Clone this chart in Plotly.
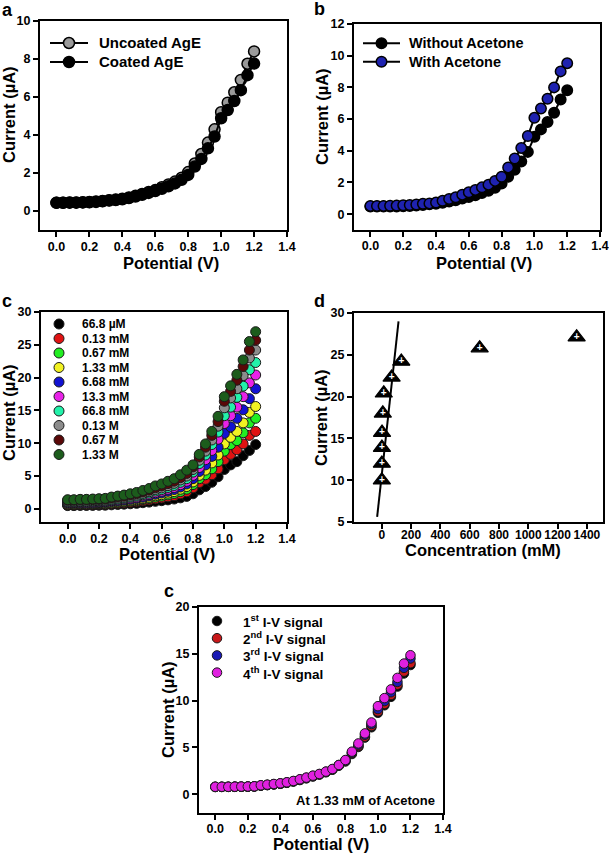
import plotly.graph_objects as go

W, H = 609, 854
FONT = "Liberation Sans, Arial, Helvetica, sans-serif"

# ---------------- data ----------------
potential = [0.00, 0.04, 0.08, 0.12, 0.16, 0.20, 0.24, 0.28, 0.32, 0.36,
             0.40, 0.44, 0.48, 0.52, 0.56, 0.60, 0.64, 0.68, 0.72, 0.76,
             0.80, 0.84, 0.88, 0.92, 0.96, 1.00, 1.04, 1.08, 1.12, 1.16, 1.20]

# panel a
a_names = ["Uncoated AgE", "Coated AgE"]
a_colors = ["#9a9a9a", "#000000"]
a_uncoated = [0.44, 0.44, 0.45, 0.45, 0.46, 0.48, 0.50, 0.53, 0.57, 0.60,
              0.65, 0.71, 0.80, 0.90, 1.00, 1.10, 1.25, 1.40, 1.55, 1.75,
              2.05, 2.50, 3.00, 3.60, 4.30, 5.20, 5.70, 6.25, 6.90, 7.75, 8.40]
a_coated = [0.43, 0.43, 0.44, 0.44, 0.45, 0.46, 0.48, 0.51, 0.55, 0.58,
            0.62, 0.68, 0.76, 0.85, 0.95, 1.05, 1.17, 1.30, 1.45, 1.64,
            1.90, 2.34, 2.74, 3.30, 3.92, 4.88, 5.31, 5.79, 6.36, 7.15, 7.76]

# panel b
b_names = ["Without Acetone", "With Acetone"]
b_colors = ["#000000", "#1e22b0"]
b_without = [0.48, 0.48, 0.48, 0.48, 0.49, 0.50, 0.52, 0.55, 0.58, 0.62,
             0.66, 0.72, 0.80, 0.88, 0.98, 1.08, 1.20, 1.33, 1.48, 1.67,
             1.94, 2.36, 2.80, 3.32, 3.93, 4.89, 5.35, 5.81, 6.40, 7.23, 7.82]
b_with = [0.52, 0.52, 0.52, 0.53, 0.54, 0.56, 0.58, 0.61, 0.65, 0.68,
          0.73, 0.84, 0.96, 1.07, 1.23, 1.38, 1.53, 1.69, 1.86, 2.10,
          2.36, 2.95, 3.51, 4.18, 4.93, 6.08, 6.67, 7.28, 8.00, 9.01, 9.53]

# panel c
c_labels = ["66.8 µM", "0.13 mM", "0.67 mM", "1.33 mM", "6.68 mM",
            "13.3 mM", "66.8 mM", "0.13 M", "0.67 M", "1.33 M"]
c_colors = ["#000000", "#e01212", "#22ee22", "#f2f222", "#1212d2",
            "#e822e8", "#22f2aa", "#8c8c8c", "#5a0808", "#1c5c1c"]
c_66_8uM = [0.50, 0.50, 0.52, 0.52, 0.53, 0.55, 0.56, 0.62, 0.67, 0.72,
            0.78, 0.84, 0.94, 1.03, 1.15, 1.25, 1.37, 1.50, 1.68, 1.90,
            2.3, 2.9, 3.4, 4.05, 4.9, 6.0, 6.7, 7.2, 8.1, 8.9, 9.8]
c_0_13mM = [0.60, 0.60, 0.62, 0.62, 0.64, 0.67, 0.69, 0.78, 0.84, 0.91,
            1.00, 1.09, 1.22, 1.36, 1.53, 1.67, 1.84, 2.02, 2.29, 2.60,
            3.2, 4.0, 4.5, 5.2, 6.1, 7.5, 8.3, 9.0, 9.9, 11.2, 11.8]
c_0_67mM = [0.70, 0.70, 0.73, 0.73, 0.75, 0.78, 0.80, 0.90, 0.98, 1.06,
            1.16, 1.26, 1.42, 1.57, 1.77, 1.93, 2.13, 2.34, 2.64, 3.00,
            3.7, 4.6, 5.2, 6.1, 7.2, 8.8, 9.8, 10.4, 11.6, 13.1, 13.8]
c_1_33mM = [0.75, 0.75, 0.78, 0.78, 0.81, 0.84, 0.87, 0.99, 1.07, 1.16,
            1.28, 1.40, 1.57, 1.75, 1.99, 2.16, 2.40, 2.63, 2.99, 3.40,
            4.1, 5.1, 5.9, 7.0, 8.2, 9.9, 10.9, 11.8, 13.1, 14.7, 15.6]
c_6_68mM = [0.85, 0.85, 0.88, 0.88, 0.91, 0.95, 0.98, 1.11, 1.21, 1.31,
            1.44, 1.57, 1.77, 1.97, 2.23, 2.42, 2.68, 2.95, 3.34, 3.80,
            4.6, 5.7, 6.7, 8.0, 9.4, 11.5, 12.5, 13.8, 15.1, 16.8, 18.3]
c_13_3mM = [0.95, 0.95, 0.99, 0.99, 1.02, 1.06, 1.09, 1.24, 1.35, 1.46,
            1.60, 1.74, 1.96, 2.18, 2.47, 2.68, 2.97, 3.26, 3.69, 4.20,
            5.1, 6.3, 7.5, 8.9, 10.6, 13.0, 14.2, 15.5, 17.1, 19.2, 20.4]
c_66_8mM = [1.05, 1.05, 1.09, 1.09, 1.13, 1.17, 1.21, 1.37, 1.48, 1.60,
            1.76, 1.92, 2.15, 2.39, 2.71, 2.94, 3.26, 3.57, 4.05, 4.60,
            5.6, 6.9, 8.2, 9.8, 11.7, 14.2, 15.5, 17.0, 18.7, 21.2, 22.3]
c_0_13M = [1.15, 1.15, 1.19, 1.19, 1.23, 1.28, 1.32, 1.49, 1.62, 1.75,
           1.92, 2.09, 2.35, 2.61, 2.95, 3.20, 3.54, 3.89, 4.40, 5.00,
           6.0, 7.4, 8.8, 10.5, 12.6, 15.4, 16.9, 18.3, 20.3, 23.0, 24.2]
c_0_67M = [1.30, 1.30, 1.35, 1.35, 1.39, 1.44, 1.48, 1.66, 1.80, 1.94,
           2.12, 2.30, 2.58, 2.85, 3.21, 3.49, 3.85, 4.22, 4.76, 5.40,
           6.4, 7.9, 9.4, 11.2, 13.3, 16.4, 17.9, 19.6, 21.7, 24.2, 25.7]
c_1_33M = [1.40, 1.40, 1.45, 1.45, 1.50, 1.55, 1.60, 1.80, 1.95, 2.10,
           2.30, 2.50, 2.80, 3.10, 3.50, 3.80, 4.20, 4.60, 5.20, 5.90,
           6.7, 8.3, 9.9, 11.8, 14.1, 17.1, 18.75, 20.5, 22.7, 25.5, 27.0]
c_series = [c_66_8uM, c_0_13mM, c_0_67mM, c_1_33mM, c_6_68mM,
            c_13_3mM, c_66_8mM, c_0_13M, c_0_67M, c_1_33M]

# panel d
d_conc_mM = [0.0668, 0.13, 0.67, 1.33, 6.68, 13.3, 66.8, 133, 668, 1330]
d_current = [10.0, 12.0, 13.9, 15.7, 18.0, 20.4, 22.3, 24.2, 25.8, 27.1]
d_fit_x = [-32, 114]
d_fit_y = [5.6, 29.0]

# panel e
e_names = ["1<sup>st</sup> I-V signal", "2<sup>nd</sup> I-V signal",
           "3<sup>rd</sup> I-V signal", "4<sup>th</sup> I-V signal"]
e_colors = ["#000000", "#c8181a", "#1a1ab4", "#e020e0"]
e_1st = [0.78, 0.78, 0.79, 0.79, 0.80, 0.81, 0.83, 0.92, 0.98, 1.05,
         1.12, 1.22, 1.36, 1.52, 1.70, 1.90, 2.10, 2.35, 2.62, 3.05,
         3.50, 4.30, 5.05, 6.05, 7.15, 8.70, 9.50, 10.4, 11.5, 12.9, 13.8]
e_2nd = [0.78, 0.79, 0.79, 0.80, 0.80, 0.81, 0.84, 0.93, 0.99, 1.06,
         1.13, 1.24, 1.38, 1.54, 1.73, 1.93, 2.13, 2.38, 2.66, 3.10,
         3.56, 4.38, 5.15, 6.15, 7.30, 8.85, 9.65, 10.6, 11.7, 13.1, 14.0]
e_3rd = [0.80, 0.80, 0.80, 0.81, 0.81, 0.82, 0.84, 0.94, 1.00, 1.08,
         1.15, 1.26, 1.40, 1.57, 1.76, 1.96, 2.15, 2.40, 2.68, 3.12,
         3.60, 4.45, 5.30, 6.35, 7.50, 9.10, 9.95, 10.9, 12.0, 13.5, 14.5]
e_4th = [0.80, 0.80, 0.80, 0.81, 0.82, 0.83, 0.85, 0.96, 1.03, 1.10,
         1.17, 1.28, 1.42, 1.60, 1.78, 1.99, 2.17, 2.42, 2.70, 3.13,
         3.66, 4.55, 5.43, 6.50, 7.67, 9.41, 10.27, 11.2, 12.43, 13.96, 14.85]
e_series = [e_1st, e_2nd, e_3rd, e_4th]

# ---------------- helpers ----------------
def dx(a, b):
    return [a / W, b / W]

def dy(top, bottom):
    return [1 - bottom / H, 1 - top / H]

def bold(size, color="black"):
    return dict(family=FONT, size=size, color=color, weight="bold")

fig = go.Figure()
ann = []

# panel a
for name, vals, fill in zip(a_names, [a_uncoated, a_coated], a_colors):
    fig.add_trace(go.Scatter(
        x=potential, y=vals, name=name, mode="lines+markers",
        line=dict(color="black", width=2),
        marker=dict(size=11, color=fill, line=dict(color="black", width=1.5)),
        xaxis="x", yaxis="y"))

# panel b
for name, vals, fill in zip(b_names, [b_without, b_with], b_colors):
    fig.add_trace(go.Scatter(
        x=potential, y=vals, name=name, mode="lines+markers",
        line=dict(color="black", width=2),
        marker=dict(size=10.5, color=fill, line=dict(color="black", width=1.5)),
        xaxis="x2", yaxis="y2"))

# panel c
for lab, vals, col in zip(c_labels, c_series, c_colors):
    fig.add_trace(go.Scatter(
        x=potential, y=vals, name=lab, mode="markers",
        marker=dict(size=10, color=col, line=dict(color="#1a1a1a", width=1)),
        xaxis="x3", yaxis="y3"))

# panel d
fig.add_trace(go.Scatter(
    x=d_fit_x, y=d_fit_y, mode="lines",
    line=dict(color="black", width=2), xaxis="x4", yaxis="y4"))
fig.add_trace(go.Scatter(
    x=d_conc_mM, y=d_current, mode="markers+text",
    marker=dict(symbol="triangle-up", size=15, color="black",
                line=dict(color="black", width=1.2)),
    text=["+"] * len(d_conc_mM), textposition="middle center",
    textfont=bold(10, "white"),
    xaxis="x4", yaxis="y4"))

# panel e
for name, vals, col in zip(e_names, e_series, e_colors):
    fig.add_trace(go.Scatter(
        x=potential, y=vals, name=name, mode="markers",
        marker=dict(size=9.5, color=col, line=dict(color="#1a1a1a", width=1)),
        xaxis="x5", yaxis="y5"))


# ---------------- custom legends on hidden helper axes ----------------
legend_axes = {}

def add_legend(k, labels, colors, x0, x1, text_px, first_y, step, font_size,
               with_line, msize, mline):
    n = len(labels)
    idx = list(range(n))
    span = 160.0
    legend_axes["xaxis%d" % k] = dict(domain=dx(x0, x0 + span),
                                      range=[0, span / (x1 - x0)],
                                      visible=False, anchor="y%d" % k,
                                      fixedrange=True)
    legend_axes["yaxis%d" % k] = dict(domain=dy(first_y - step / 2,
                                                first_y + (n - 0.5) * step),
                                      range=[n - 0.5, -0.5], visible=False,
                                      anchor="x%d" % k, fixedrange=True)
    if with_line:
        lx, ly = [], []
        for i in idx:
            lx += [0, 1, None]
            ly += [i, i, None]
        fig.add_trace(go.Scatter(x=lx, y=ly, mode="lines",
                                 line=dict(color="black", width=2),
                                 xaxis="x%d" % k, yaxis="y%d" % k,
                                 hoverinfo="skip"))
    fig.add_trace(go.Scatter(x=[0.5] * n, y=idx, mode="markers",
                             marker=dict(size=msize, color=colors,
                                         line=dict(color=mline[0], width=mline[1])),
                             xaxis="x%d" % k, yaxis="y%d" % k,
                             hoverinfo="skip"))
    tx = (text_px - x0) / (x1 - x0)
    for i, lab in zip(idx, labels):
        ann.append(dict(x=tx, y=i, xref="x%d" % k, yref="y%d" % k, text=lab,
                        showarrow=False, font=bold(font_size),
                        xanchor="left", yanchor="middle"))

add_legend(6, a_names, a_colors, 50, 88, 97, 43, 19, 15, True, 11, ("black", 1.5))
add_legend(7, b_names, b_colors, 363, 400, 407, 43.3, 18.4, 14.5, True, 10.5, ("black", 1.5))
add_legend(8, c_labels, c_colors, 49, 69, 80, 324, 14.5, 12, False, 10, ("#1a1a1a", 1))
add_legend(9, e_names, e_colors, 207, 227, 241, 621, 17.2, 13.5, False, 9.5, ("#1a1a1a", 1))

# ---------------- axes ----------------
def ax(domain, rng, dtick, anchor, fmt=None, tick0=None, fsize=12.5, standoff=0):
    d = dict(domain=domain, range=rng, dtick=dtick, anchor=anchor,
             showline=True, linecolor="black", linewidth=2, mirror=True,
             ticks="outside", ticklen=5, tickwidth=1.5, tickcolor="black",
             showgrid=False, zeroline=False, automargin=False,
             tickfont=bold(fsize), fixedrange=True, tickangle=0,
             ticklabelstandoff=standoff)
    if fmt:
        d["tickformat"] = fmt
    if tick0 is not None:
        d["tick0"] = tick0
    return d

layout = dict(
    width=W, height=H, margin=dict(l=0, r=0, t=0, b=0),
    paper_bgcolor="white", plot_bgcolor="rgba(0,0,0,0)",
    template="none", showlegend=False,
    xaxis=ax(dx(40, 287), [-0.1, 1.4], 0.2, "y", ".1f", 0, standoff=-1),
    yaxis=ax(dy(21, 230), [-1, 10], 2, "x", None, 0),
    xaxis2=ax(dx(354, 600), [-0.1, 1.4], 0.2, "y2", ".1f", 0, standoff=-2),
    yaxis2=ax(dy(24, 230), [-1, 12], 2, "x2", None, 0),
    xaxis3=ax(dx(41, 287), [-0.17, 1.4], 0.2, "y3", ".1f", 0, standoff=-1),
    yaxis3=ax(dy(312, 522), [-2, 30], 5, "x3", None, 0),
    xaxis4=ax(dx(354, 603), [-190, 1510], 200, "y4", None, 0, 12, standoff=-4),
    yaxis4=ax(dy(313, 522), [5, 30], 5, "x4", None, 5),
    xaxis5=ax(dx(199, 443), [-0.1, 1.4], 0.2, "y5", ".1f", 0, standoff=-2),
    yaxis5=ax(dy(607, 813), [-2, 20], 5, "x5", None, 0),
)
layout.update(legend_axes)
fig.update_layout(**layout)

# ---------------- annotations ----------------
def text(x, y, s, size, angle=0, xanchor="center"):
    ann.append(dict(x=x / W, y=1 - y / H, xref="paper", yref="paper",
                    text=s, showarrow=False, font=bold(size),
                    textangle=angle, xanchor=xanchor, yanchor="middle"))

# panel letters
text(7, 10, "a", 18)
text(319, 9, "b", 18)
text(7, 301, "c", 18)
text(319, 301, "d", 18)
text(169, 591, "c", 18)

# axis titles
text(171, 263, "Potential (V)", 16.5)
text(9, 115, "Current (µA)", 16.5, -90)
text(484, 263, "Potential (V)", 16.5)
text(322, 117, "Current (µA)", 16.5, -90)
text(167, 554, "Potential (V)", 16.5)
text(9, 413, "Current (µA)", 16.5, -90)
text(483, 550, "Concentration (mM)", 16.5)
text(321, 418, "Current (µA)", 16.5, -90)
text(321, 844, "Potential (V)", 16.5)
text(168, 710, "Current (µA)", 16.5, -90)

# note in panel e
text(437, 800, "At 1.33 mM of Acetone", 13, xanchor="right")

fig.update_layout(annotations=ann)

fig.write_html(
    "out.html",
    config={"displayModeBar": False},
    post_script="document.body.style.margin='0';document.body.style.padding='0';"
                "document.documentElement.style.overflow='hidden';")
